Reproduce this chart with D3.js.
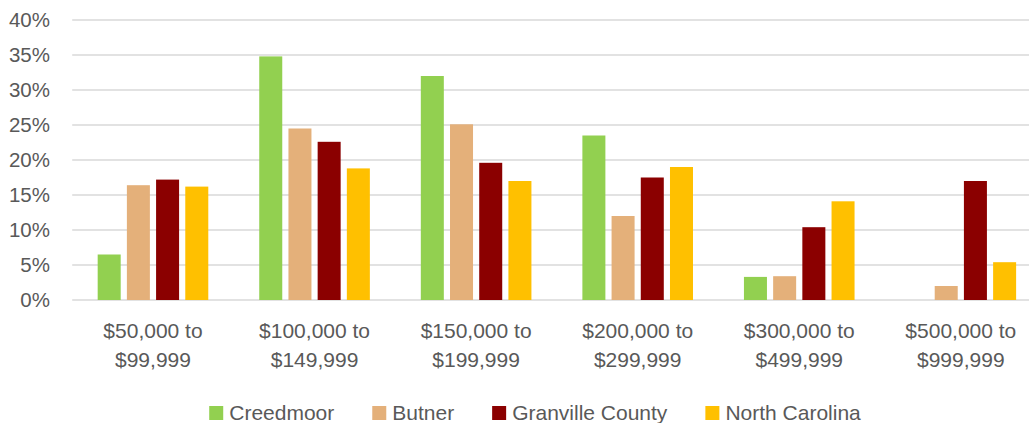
<!DOCTYPE html>
<html>
<head>
<meta charset="utf-8">
<script src="https://cdn.jsdelivr.net/npm/d3@7"></script>
<style>
  html, body { margin: 0; padding: 0; background: #fff; }
  svg { display: block; }
  text { font-family: "Liberation Sans", Arial, sans-serif; fill: #595959; }
</style>
</head>
<body>
<svg id="chart" width="1029" height="423"></svg>
<script>
// Home value distribution by price range
const categories = [
  ["$50,000 to", "$99,999"],
  ["$100,000 to", "$149,999"],
  ["$150,000 to", "$199,999"],
  ["$200,000 to", "$299,999"],
  ["$300,000 to", "$499,999"],
  ["$500,000 to", "$999,999"]
];
const seriesNames = ["Creedmoor", "Butner", "Granville County", "North Carolina"];
const creedmoor = [0.065, 0.348, 0.320, 0.235, 0.033, 0.000];
const butner = [0.164, 0.245, 0.251, 0.120, 0.034, 0.020];
const granville = [0.172, 0.226, 0.196, 0.175, 0.104, 0.170];
const northCarolina = [0.162, 0.188, 0.170, 0.190, 0.141, 0.054];
const seriesColors = ["#92D050", "#E4B07A", "#8B0000", "#FFC000"];
const yTicks = [0, 0.05, 0.10, 0.15, 0.20, 0.25, 0.30, 0.35, 0.40];

const seriesValues = [creedmoor, butner, granville, northCarolina];
const catKeys = categories.map(c => c.join(" "));

const svg = d3.select("#chart");

const plot = { left: 72.2, right: 1041.6, top: 20, bottom: 300 };

const x0 = d3.scaleBand().domain(catKeys).range([plot.left, plot.right]).padding(0);
const groupSpan = 116.8;
const x1 = d3.scaleBand()
  .domain(seriesNames)
  .range([(x0.bandwidth() - groupSpan) / 2, (x0.bandwidth() + groupSpan) / 2])
  .paddingInner(0.212)
  .paddingOuter(0.106);
const y = d3.scaleLinear().domain([0, 0.40]).range([plot.bottom, plot.top]);
const color = d3.scaleOrdinal().domain(seriesNames).range(seriesColors);

// Horizontal gridlines
svg.append("g")
  .selectAll("line")
  .data(yTicks)
  .join("line")
  .attr("x1", plot.left)
  .attr("x2", 1029)
  .attr("y1", d => y(d))
  .attr("y2", d => y(d))
  .attr("stroke", "#d9d9d9")
  .attr("stroke-width", 1.4);

// Y axis labels
const yAxis = d3.axisLeft(y)
  .tickValues(yTicks)
  .tickFormat(d3.format(".0%"))
  .tickSize(0)
  .tickPadding(0);
const yg = svg.append("g").attr("transform", "translate(50,0)").call(yAxis);
yg.select(".domain").remove();
yg.selectAll("text")
  .attr("font-size", "20.5px")
  .attr("font-family", "'Liberation Sans', Arial, sans-serif")
  .attr("fill", "#595959");

// Bars
const groups = svg.append("g")
  .selectAll("g")
  .data(catKeys)
  .join("g")
  .attr("transform", d => `translate(${x0(d)},0)`);

groups.selectAll("rect")
  .data((d, i) => seriesNames.map((s, j) => ({ series: s, value: seriesValues[j][i] })))
  .join("rect")
  .attr("x", d => x1(d.series))
  .attr("width", x1.bandwidth())
  .attr("y", d => y(d.value))
  .attr("height", d => y(0) - y(d.value))
  .attr("fill", d => color(d.series));

// X axis category labels (two lines each)
const xLabels = svg.append("g")
  .selectAll("text")
  .data(categories)
  .join("text")
  .attr("x", (d, i) => x0(catKeys[i]) + x0.bandwidth() / 2)
  .attr("y", 338)
  .attr("text-anchor", "middle")
  .attr("font-size", "21px");
xLabels.selectAll("tspan")
  .data(d => d)
  .join("tspan")
  .attr("x", function () { return d3.select(this.parentNode).attr("x"); })
  .attr("dy", (d, i) => i === 0 ? 0 : 29)
  .text(d => d);

// Legend
const legend = svg.append("g");
const items = legend.selectAll("g")
  .data(seriesNames)
  .join("g");
items.append("rect")
  .attr("width", 14)
  .attr("height", 14)
  .attr("y", 406)
  .attr("fill", d => color(d));
items.append("text")
  .attr("x", 20)
  .attr("y", 420)
  .attr("font-size", "21px")
  .text(d => d);

const itemGap = 38;
let cursor = 0;
const offsets = [];
items.each(function () {
  offsets.push(cursor);
  const w = d3.select(this).select("text").node().getComputedTextLength();
  cursor += 20 + w + itemGap;
});
const totalW = cursor - itemGap;
const legendStart = 535 - totalW / 2;
items.attr("transform", (d, i) => `translate(${legendStart + offsets[i]},0)`);
</script>
</body>
</html>
